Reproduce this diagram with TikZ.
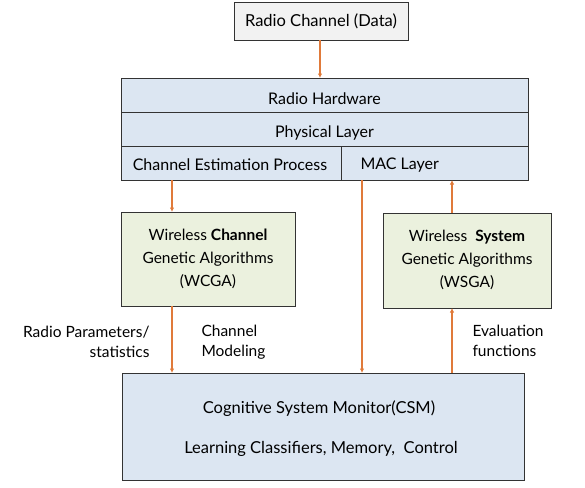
\documentclass[tikz,border=0pt]{standalone}
\usepackage{fontspec}
\setmainfont{Lato}
\usetikzlibrary{arrows.meta,shadows}
\definecolor{bluefill}{HTML}{DCE6F2}
\definecolor{greenfill}{HTML}{EBF1DE}
\definecolor{greyfill}{HTML}{F2F2F2}
\definecolor{arrowc}{HTML}{E07A3A}
\tikzset{
  boxbase/.style={draw=black!80, line width=0.8pt, drop shadow={shadow xshift=1.2pt, shadow yshift=-1.2pt, opacity=0.35}},
  flow/.style={draw=arrowc, line width=1.4pt, -{Latex[length=4.5pt,width=4.5pt]}},
  lbl/.style={font=\fontsize{15.5}{19.5}\selectfont, align=left},
  layertxt/.style={font=\fontsize{16}{18}\selectfont},
  gatxt/.style={font=\fontsize{15.5}{23}\selectfont, align=center},
}
\begin{document}
\begin{tikzpicture}[x=1pt,y=-1pt]
\useasboundingbox (0,0) rectangle (585,487);
% boxes
\filldraw[boxbase, fill=greyfill] (234,2) rectangle (408,40);
\node[font=\fontsize{16.5}{18}\selectfont] (rc) at (321,21) {Radio Channel (Data)};
\filldraw[boxbase, fill=bluefill] (121,78) rectangle (528,180);
\draw[black!80, line width=0.8pt] (121,112) -- (528,112) (121,146) -- (528,146) (341,146) -- (341,180);
\node[layertxt] (rh) at (324.5,99) {Radio Hardware};
\node[layertxt] (pl) at (324.5,133) {Physical Layer};
\node[layertxt] (ce) at (230,165) {Channel Estimation Process};
\node[layertxt, anchor=west] (mac) at (357,165) {MAC Layer};
\filldraw[boxbase, fill=greenfill] (121,212) rectangle (295,306);
\node[gatxt] (wcga) at (208,259) {Wireless \textbf{Channel}\\Genetic Algorithms\\(WCGA)};
\filldraw[boxbase, fill=greenfill] (383,213) rectangle (551,308);
\node[gatxt] (wsga) at (467,260) {Wireless~~\textbf{System}\\Genetic Algorithms\\(WSGA)};
\filldraw[boxbase, fill=bluefill] (122,373) rectangle (524,480);
\node[font=\fontsize{16.5}{18}\selectfont] (csm1) at (319,409) {Cognitive System Monitor(CSM)};
\node[font=\fontsize{16.5}{18}\selectfont] (csm2) at (321,449) {Learning Classifiers, Memory,~~Control};
% arrows
\draw[flow] (320,40) -- (320,78);
\draw[flow] (172,180) -- (172,212);
\draw[flow] (172,306) -- (172,373);
\draw[flow] (362,180) -- (362,373);
\draw[flow] (452,373) -- (452,308);
\draw[flow] (452,213) -- (452,180);
% labels
\node[lbl, align=right, anchor=east] (rp) at (153,342) {Radio Parameters/\\statistics};
\node[lbl, anchor=west] (cm) at (198,342) {Channel\\Modeling};
\node[lbl, anchor=west] (ev) at (469,341) {Evaluation\\functions};
\end{tikzpicture}
\end{document}
